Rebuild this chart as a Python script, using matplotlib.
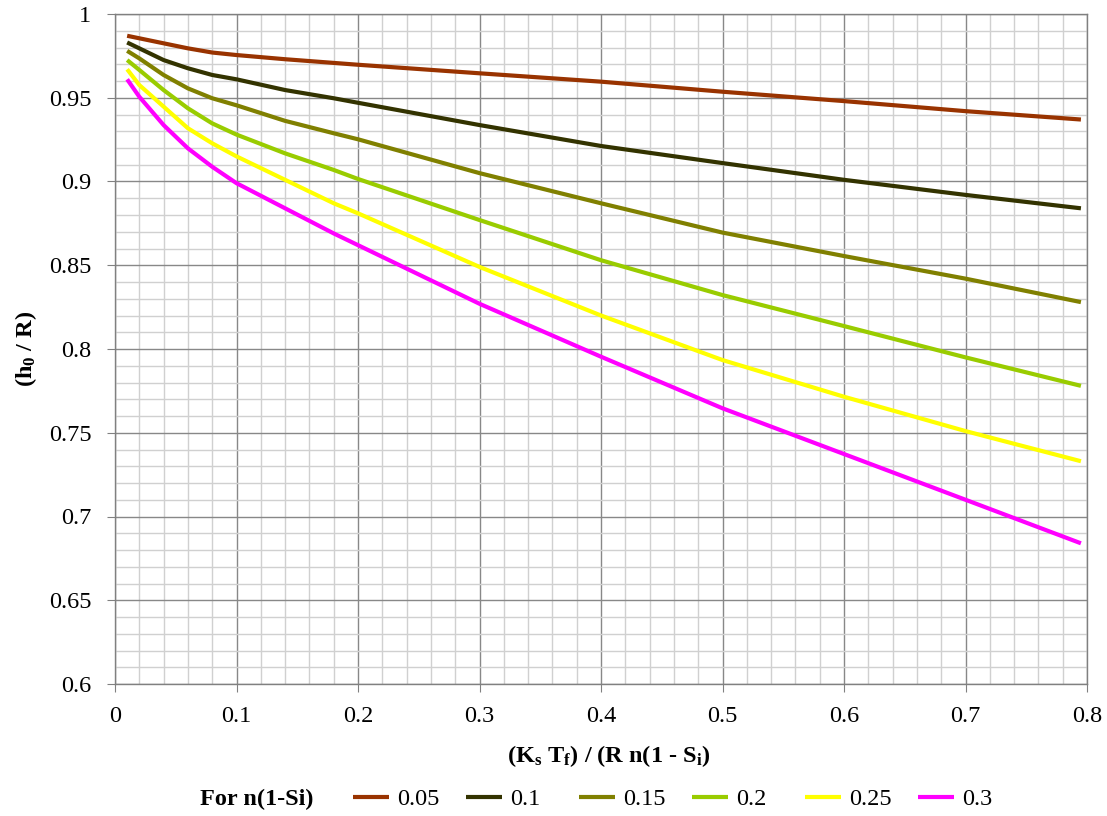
import matplotlib
matplotlib.use("Agg")
import matplotlib.pyplot as plt
from matplotlib.ticker import MultipleLocator

plt.rcParams['font.family'] = ['Liberation Serif', 'DejaVu Serif']
plt.rcParams['mathtext.fontset'] = 'custom'
plt.rcParams['mathtext.rm'] = 'Liberation Serif:bold'
plt.rcParams['mathtext.bf'] = 'Liberation Serif:bold'
plt.rcParams['mathtext.it'] = 'Liberation Serif:bold'
plt.rcParams['mathtext.default'] = 'bf'

x = [0.01, 0.02, 0.04, 0.06, 0.08, 0.1, 0.14, 0.18, 0.2, 0.3, 0.4, 0.5, 0.6, 0.7, 0.795]

s005 = [0.987, 0.9855, 0.9825, 0.9795, 0.977, 0.9755, 0.973, 0.9708, 0.9697, 0.9646, 0.9596, 0.9536, 0.948, 0.942, 0.937]
s010 = [0.983, 0.9795, 0.9725, 0.9676, 0.9636, 0.961, 0.9546, 0.9497, 0.947, 0.9337, 0.9212, 0.911, 0.901, 0.892, 0.884]
s015 = [0.978, 0.9735, 0.9636, 0.9556, 0.9497, 0.9455, 0.9362, 0.9288, 0.9252, 0.905, 0.887, 0.8695, 0.8555, 0.842, 0.828]
s020 = [0.9725, 0.9666, 0.9546, 0.9437, 0.9347, 0.928, 0.9168, 0.9069, 0.9015, 0.877, 0.853, 0.8322, 0.8137, 0.795, 0.778]
s025 = [0.967, 0.9576, 0.9447, 0.9318, 0.9228, 0.915, 0.901, 0.887, 0.881, 0.849, 0.820, 0.7934, 0.7715, 0.751, 0.733]
s030 = [0.961, 0.9506, 0.9337, 0.9198, 0.9088, 0.899, 0.884, 0.869, 0.862, 0.827, 0.7954, 0.7646, 0.7373, 0.710, 0.684]

labels = ['0.05', '0.1', '0.15', '0.2', '0.25', '0.3']
series = [s005, s010, s015, s020, s025, s030]
colors = ['#993300', '#333300', '#808000', '#99CC00', '#FFFF00', '#FF00FF']

FS = 17.5
W, H = 1107, 816
fig = plt.figure(figsize=(W / 100, H / 100), dpi=100)
L, R, T, B = 115, 1087, 14, 684
ax = fig.add_axes([L / W, 1 - B / H, (R - L) / W, (B - T) / H])

lines = []
for ys, c, lab in zip(series, colors, labels):
    ln, = ax.plot(x, ys, color=c, lw=3.0, label=lab, solid_capstyle='butt',
                  solid_joinstyle='round', zorder=3)
    lines.append(ln)

ax.set_xlim(0, 0.8)
ax.set_ylim(0.6, 1.0)
ax.xaxis.set_major_locator(MultipleLocator(0.1))
ax.xaxis.set_minor_locator(MultipleLocator(0.02))
ax.yaxis.set_major_locator(MultipleLocator(0.05))
ax.yaxis.set_minor_locator(MultipleLocator(0.01))

def fmt(v, pos):
    return ('%.2f' % v).rstrip('0').rstrip('.')
ax.xaxis.set_major_formatter(plt.FuncFormatter(fmt))
ax.yaxis.set_major_formatter(plt.FuncFormatter(fmt))

ax.grid(which='minor', color='#d0d0d0', lw=1.0, zorder=0)
ax.grid(which='major', color='#888888', lw=1.0, zorder=1)
ax.set_axisbelow(True)
ax.tick_params(which='major', direction='out', length=6, color='#808080', labelsize=FS)
ax.tick_params(axis='x', which='major', pad=10)
ax.tick_params(axis='y', which='major', pad=11)
ax.tick_params(which='minor', length=0)
for sp in ax.spines.values():
    sp.set_color('#808080')
    sp.set_linewidth(1.0)

ax.set_xlabel(r'(K$_s$ T$_f$) / (R n(1 - S$_i$)', fontsize=FS, fontweight='bold')
ax.xaxis.set_label_coords((609 - L) / (R - L), -(756 - B) / (B - T))
ax.xaxis.label.set_va('center')
ax.set_ylabel(r'(h$_0$ / R)', fontsize=FS, fontweight='bold')
ax.yaxis.set_label_coords(-(L - 26) / (R - L), 0.5)
ax.yaxis.label.set_va('center')

ly = 1 - 799 / H
fig.text(200 / W, ly, 'For n(1-Si)', fontsize=FS, fontweight='bold', va='center', ha='left')
for i, (ln, lab) in enumerate(zip(lines, labels)):
    x0 = (353 + 113 * i) / W
    lg = fig.legend([ln], [lab], loc='center left', bbox_to_anchor=(x0, ly),
                    frameon=False, fontsize=FS, handlelength=1.5, handletextpad=0.3,
                    borderaxespad=0, borderpad=0)

fig.savefig('out.png', dpi=100)
